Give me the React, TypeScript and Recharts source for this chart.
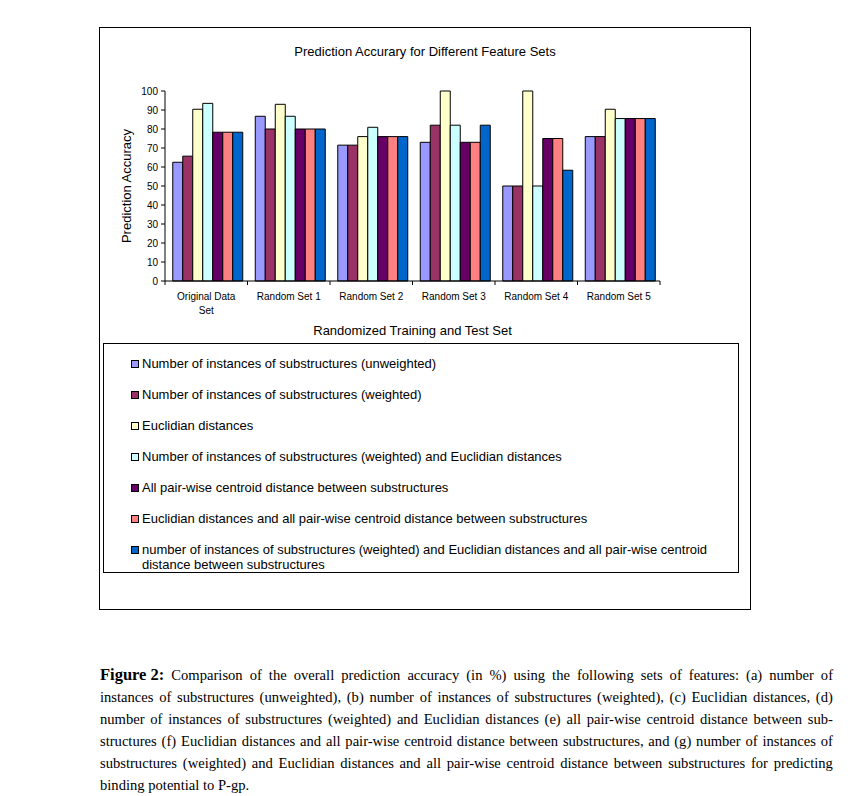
import React from 'react';
import { BarChart, Bar, XAxis, YAxis, Legend } from 'recharts';

const categories = ['Original Data Set', 'Random Set 1', 'Random Set 2', 'Random Set 3', 'Random Set 4', 'Random Set 5'];

const unweighted = [62.5, 86.7, 71.5, 73, 50, 76];
const weighted = [65.7, 80, 71.5, 82, 50, 76];
const euclid = [90.4, 93, 76, 100, 100, 90.4];
const weightedEuclid = [93.5, 86.7, 80.9, 82, 50, 85.5];
const pairwise = [78.3, 80, 76, 73, 75, 85.5];
const euclidPairwise = [78.3, 80, 76, 73, 75, 85.5];
const allFeatures = [78.3, 80, 76, 82, 58.3, 85.5];

const yTicks = [0, 10, 20, 30, 40, 50, 60, 70, 80, 90, 100];

const seriesNames = [
  'Number of instances of substructures (unweighted)',
  'Number of instances of substructures (weighted)',
  'Euclidian distances',
  'Number of instances of substructures (weighted) and Euclidian distances',
  'All pair-wise centroid distance between substructures',
  'Euclidian distances and all pair-wise centroid distance between substructures',
  'number of instances of substructures (weighted) and Euclidian distances and all pair-wise centroid distance between substructures',
];
const seriesColors = ['#9999FF', '#993366', '#FFFFCC', '#CCFFFF', '#660066', '#FF8080', '#0066CC'];
const seriesValues = [unweighted, weighted, euclid, weightedEuclid, pairwise, euclidPairwise, allFeatures];

const captionLines = [
  'Comparison of the overall prediction accuracy (in %) using the following sets of features: (a) number of',
  'instances of substructures (unweighted), (b) number of instances of substructures (weighted), (c) Euclidian distances, (d)',
  'number of instances of substructures (weighted) and Euclidian distances (e) all pair-wise centroid distance between sub-',
  'structures (f) Euclidian distances and all pair-wise centroid distance between substructures, and (g) number of instances of',
  'substructures (weighted) and Euclidian distances and all pair-wise centroid distance between substructures for predicting',
  'binding potential to P-gp.',
];

const data = categories.map((name, i) => {
  const row: Record<string, string | number> = { name };
  seriesValues.forEach((vals, s) => {
    row['s' + s] = vals[i];
  });
  return row;
});

const FONT = '"Liberation Sans", Arial, sans-serif';

// break long category names like Excel does ("Original Data" / "Set")
const splitLabel = (label: string) => {
  if (label.length <= 14) return [label];
  const cut = label.lastIndexOf(' ', 14);
  return [label.slice(0, cut), label.slice(cut + 1)];
};

const CategoryTick = (props: any) => {
  const { x, y, payload, index, visibleTicksCount } = props;
  const off = payload.offset ?? 41;
  const last = index === visibleTicksCount - 1;
  const lines = splitLabel(String(payload.value));
  return (
    <g>
      <line x1={x - off} x2={x - off} y1={y} y2={y + 4} stroke="#000" />
      {last && <line x1={x + off} x2={x + off} y1={y} y2={y + 4} stroke="#000" />}
      <text x={x} y={y + 19} textAnchor="middle" fontSize={10} fill="#000" fontFamily={FONT}>
        {lines.map((l, i) => (
          <tspan key={i} x={x} dy={i === 0 ? 0 : 14}>
            {l}
          </tspan>
        ))}
      </text>
    </g>
  );
};

const LegendBox = (props: any) => {
  const items = [...(props.payload || [])].sort(
    (a: any, b: any) => seriesNames.indexOf(a.value) - seriesNames.indexOf(b.value)
  );
  return (
    <div
      style={{
        width: 634,
        height: 216,
        border: '1px solid #000',
        fontFamily: FONT,
        fontSize: 13,
        color: '#000',
        paddingTop: 12,
        boxSizing: 'content-box',
      }}
    >
      {items.map((p: any) => (
        <div key={p.value} style={{ display: 'flex', alignItems: 'flex-start', marginBottom: 16, lineHeight: '15px' }}>
          <div
            style={{
              width: 6,
              height: 6,
              background: p.color,
              border: '1px solid #000',
              marginLeft: 27,
              marginRight: 3,
              marginTop: 4,
              flexShrink: 0,
            }}
          />
          <div style={{ width: 592 }}>{p.value}</div>
        </div>
      ))}
    </div>
  );
};

export default function App() {
  return (
    <div style={{ position: 'absolute', left: 0, top: 0, width: 850, height: 796, background: '#fff' }}>
      <div
        style={{
          position: 'absolute',
          left: 99,
          top: 27,
          width: 650,
          height: 581,
          border: '1px solid #000',
        }}
      >
        <div
          style={{
            position: 'absolute',
            left: 0,
            width: 650,
            top: 16,
            textAlign: 'center',
            fontFamily: FONT,
            fontSize: 13,
            color: '#000',
          }}
        >
          Prediction Accurary for Different Feature Sets
        </div>
        <BarChart
          width={650}
          height={581}
          data={data}
          margin={{ top: 63, right: 90, left: 20, bottom: 268 }}
          barCategoryGap="9.4%"
          barGap={0}
        >
          <XAxis
            dataKey="name"
            height={60}
            axisLine={{ stroke: '#000' }}
            tickLine={false}
            tickSize={0}
            tickMargin={0}
            interval={0}
            tick={<CategoryTick />}
            label={{
              value: 'Randomized Training and Test Set',
              position: 'insideBottom',
              offset: 6,
              fontSize: 13,
              fill: '#000',
              fontFamily: FONT,
            }}
          />
          <YAxis
            width={45}
            domain={[0, 100]}
            ticks={yTicks}
            interval={0}
            axisLine={{ stroke: '#000' }}
            tickLine={{ stroke: '#000' }}
            tickSize={4}
            tickMargin={3}
            tick={{ fontSize: 10, fill: '#000', fontFamily: FONT }}
            label={{
              value: 'Prediction Accuracy',
              angle: -90,
              position: 'insideLeft',
              offset: 6,
              fontSize: 13,
              fill: '#000',
              fontFamily: FONT,
              style: { textAnchor: 'middle' },
            }}
          />
          <Legend
            layout="vertical"
            align="center"
            verticalAlign="middle"
            wrapperStyle={{ left: 3, top: 315, width: 636, height: 230 }}
            content={<LegendBox />}
          />
          {seriesNames.map((n, s) => (
            <Bar
              key={n}
              dataKey={'s' + s}
              name={n}
              fill={seriesColors[s]}
              stroke="#000"
              strokeWidth={1}
              isAnimationActive={false}
            />
          ))}
        </BarChart>
      </div>
      <div
        style={{
          position: 'absolute',
          left: 100,
          top: 664,
          width: 733,
          fontFamily: '"Liberation Serif", "Times New Roman", serif',
          fontSize: 14.6,
          lineHeight: '22px',
          color: '#000',
        }}
      >
        {captionLines.map((line, i) => {
          const last = i === captionLines.length - 1;
          const words = line.split(' ');
          return (
            <div
              key={i}
              style={{
                display: 'flex',
                justifyContent: last ? 'flex-start' : 'space-between',
                columnGap: last ? '0.25em' : 0,
                height: 22,
                whiteSpace: 'nowrap',
              }}
            >
              {i === 0 && <b style={{ fontSize: 16.5 }}>Figure 2:</b>}
              {words.map((w, k) => (
                <span key={k}>{w}</span>
              ))}
            </div>
          );
        })}
      </div>
    </div>
  );
}
